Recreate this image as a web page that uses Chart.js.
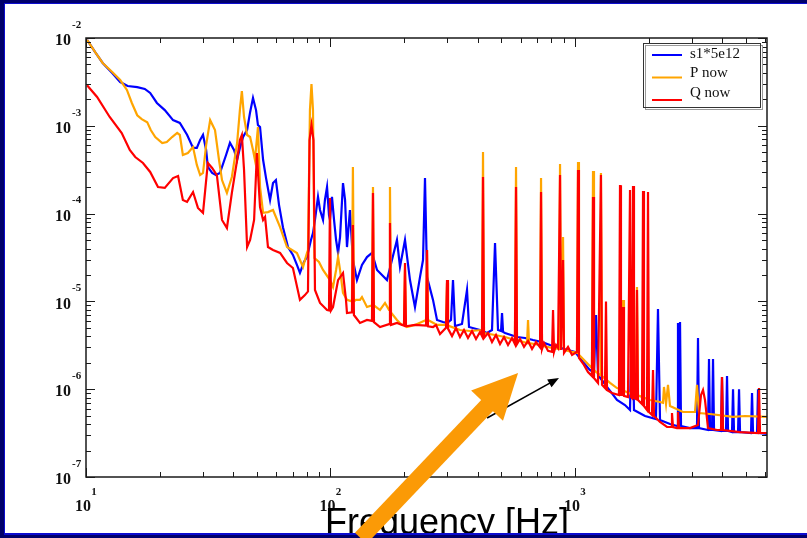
<!DOCTYPE html>
<html lang="en">
<head>
<meta charset="UTF-8">
<title>Spectrum s1 / P / Q</title>
<script src="https://cdn.jsdelivr.net/npm/chart.js"></script>
<style>
  html, body { margin: 0; padding: 0; background: #00006b; }
  canvas { display: block; }
</style>
</head>
<body>
<canvas id="spectrum" width="807" height="538"></canvas>
<script>
// Spectra as [frequency Hz, amplitude] pairs
const s1Series = [
  [10.1, 9.5e-3], [10.9, 6.9e-3], [11.7, 5.2e-3], [12.8, 4.0e-3], [13.8, 3.15e-3], [14.8, 2.84e-3],
  [16.2, 2.76e-3], [17.4, 2.63e-3], [18.3, 2.37e-3], [19.5, 1.82e-3], [21.0, 1.51e-3], [22.7, 1.16e-3],
  [24.2, 1.08e-3], [25.9, 7.9e-4], [27.4, 5.6e-4], [28.4, 5.6e-4], [29.3, 6.9e-4], [30.1, 7.9e-4],
  [31.0, 5.3e-4], [31.5, 3.4e-4], [32.8, 2.9e-4], [34.0, 2.75e-4], [35.3, 2.9e-4], [37.4, 4.65e-4],
  [38.8, 6.4e-4], [40.3, 5.3e-4], [41.5, 4.1e-4], [42.6, 5.6e-4], [43.9, 7.45e-4], [45.6, 9.0e-4],
  [46.9, 1.43e-3], [48.2, 2.08e-3], [49.6, 1.51e-3], [50.5, 1.02e-3], [51.5, 9.7e-4], [53.0, 4.1e-4],
  [54.5, 2.54e-4], [56.6, 1.43e-4], [58.2, 2.23e-4], [59.8, 2.41e-4], [61.6, 1.25e-4], [63.9, 7.0e-5],
  [67.0, 4.16e-5], [70.2, 3.38e-5], [72.9, 2.6e-5], [75.0, 2.11e-5], [77.9, 2.81e-5], [80.1, 3.2e-5],
  [83.2, 5.0e-5], [84.8, 6.0e-5], [86.4, 8.5e-5], [88.9, 1.55e-4], [90.6, 1.1e-4], [93.2, 8.5e-5],
  [94.9, 1.43e-4], [96.8, 2.01e-4], [98.6, 9.6e-5], [99.5, 8.5e-5], [101.4, 1.55e-4], [103.4, 8.5e-5],
  [105.4, 5.0e-5], [107.4, 3.56e-5], [109.4, 5.4e-5], [112.5, 2.23e-4], [114.7, 1.43e-4], [116.8, 4.16e-5],
  [120.1, 1.1e-4], [123.5, 2.96e-5], [128.3, 1.75e-5], [134.5, 2.6e-5], [141.0, 3.2e-5], [147.8, 3.56e-5],
  [155.0, 2.28e-5], [162.4, 2.0e-5], [170.2, 1.75e-5], [178.4, 2.96e-5], [187.0, 5.0e-5], [192.4, 2.47e-5],
  [201.7, 5.0e-5], [211.4, 1.75e-5], [221.6, 8.6e-6], [232.3, 1.89e-5], [239.0, 2.96e-5], [243.5, 2.54e-4],
  [248.2, 1.89e-5], [262.6, 1.04e-5], [272.7, 6.14e-6], [288.5, 5.83e-6], [299.6, 5.68e-6], [311.1, 6.14e-6],
  [317.0, 1.75e-5], [323.1, 5.24e-6], [345.0, 5.53e-6], [361.7, 1.35e-5], [368.6, 5.11e-6], [408.8, 4.72e-6],
  [436.7, 4.36e-6], [457.7, 4.72e-6], [470.9, 4.62e-5], [484.4, 4.72e-6], [498.3, 4.6e-6], [503.0, 7.38e-6],
  [507.9, 4.5e-6], [517.4, 4.36e-6], [579.3, 3.93e-6],
  [624.6, 3.83e-6], [673.6, 3.63e-6], [733.2, 3.44e-6], [790.5, 3.19e-6], [852.4, 3.03e-6], [927.8, 2.8e-6],
  [1000, 2.66e-6], [1078, 2.04e-6], [1152, 1.65e-6], [1196, 1.57e-6], [1219, 7.0e-6], [1242, 1.45e-6],
  [1364, 1.03e-6], [1485, 7.53e-7], [1601, 6.6e-7], [1679, 5.8e-7], [1711, 8.6e-6], [1743, 5.8e-7],
  [1934, 4.95e-7], [2144, 4.58e-7], [2185, 8.2e-6], [2227, 4.46e-7], [2447, 4.02e-7], [2614, 3.81e-7],
  [2638, 5.68e-6], [2663, 3.81e-7], [2689, 5.83e-6], [2714, 3.81e-7], [2954, 3.61e-7], [3155, 3.61e-7],
  [3185, 3.83e-6], [3215, 3.61e-7], [3500, 3.43e-7], [3533, 2.21e-6], [3567, 3.43e-7], [3635, 3.43e-7],
  [3669, 2.21e-6], [3704, 3.43e-7], [3956, 3.34e-7], [3993, 1.38e-6], [4031, 3.34e-7], [4147, 3.34e-7],
  [4186, 1.41e-6], [4225, 3.34e-7], [4388, 3.25e-7], [4430, 1.0e-6], [4471, 3.25e-7], [4644, 3.25e-7],
  [4688, 1.0e-6], [4732, 3.25e-7], [5248, 3.17e-7], [5298, 9.05e-7], [5348, 3.17e-7], [5554, 3.17e-7],
  [5606, 1.0e-6], [5659, 3.17e-7], [6100, 3.09e-7]
];

const pSeries = [
  [10.1, 9.5e-3], [10.9, 6.9e-3], [11.7, 5.2e-3], [12.8, 4.1e-3], [13.8, 3.32e-3], [14.7, 2.56e-3],
  [15.4, 1.82e-3], [16.2, 1.32e-3], [16.9, 1.19e-3], [17.8, 1.1e-3], [18.4, 8.96e-4], [19.2, 7.45e-4],
  [20.5, 6.37e-4], [21.4, 6.54e-4], [22.5, 7.45e-4], [23.6, 8.28e-4], [24.2, 7.86e-4], [24.9, 4.65e-4],
  [26.1, 4.9e-4], [27.4, 5.73e-4], [28.4, 3.58e-4], [29.3, 2.75e-4], [30.1, 2.9e-4], [31.0, 6.04e-4],
  [32.2, 1.16e-3], [33.7, 8.96e-4], [35.0, 4.08e-4], [36.0, 2.41e-4], [37.7, 1.72e-4], [39.5, 2.61e-4],
  [41.5, 6.37e-4], [42.6, 1.51e-3], [43.4, 2.49e-3], [44.3, 1.26e-3], [45.6, 7.86e-4], [46.9, 7.45e-4],
  [48.2, 5.3e-4], [49.1, 4.08e-4], [50.5, 9.69e-4], [51.5, 2.01e-4], [53.0, 1.02e-4], [55.5, 1.04e-4],
  [58.2, 1.1e-4], [62.2, 7.03e-5], [66.4, 4.16e-5], [69.6, 3.85e-5], [72.9, 3.56e-5], [77.2, 2.47e-5],
  [80.1, 3.56e-5], [80.9, 3.85e-5], [82.4, 1.51e-3], [83.6, 2.99e-3], [84.8, 1.51e-3], [86.0, 3.12e-5],
  [89.7, 2.81e-5], [93.2, 2.28e-5], [99.5, 1.75e-5], [102.4, 1.46e-5], [105.4, 2.28e-5], [107.4, 3.2e-5],
  [109.4, 2.28e-5], [112.5, 1.25e-5], [116.8, 1.04e-5], [122.4, 1.0e-5], [123.5, 3.4e-4], [124.7, 1.0e-5],
  [127.1, 1.04e-5], [132.0, 1.04e-5], [134.5, 1.12e-5], [141.0, 8.63e-6], [147.8, 9.0e-6], [149.2, 2.01e-4],
  [150.6, 9.0e-6], [159.4, 7.98e-6], [167.1, 9.6e-6], [173.5, 8.0e-6], [175.1, 2.01e-4], [176.8, 7.5e-6],
  [180.1, 7.0e-6], [187.0, 6.14e-6], [196.1, 5.39e-6], [199.8, 5.4e-6], [201.7, 2.28e-5], [203.6, 5.3e-6],
  [205.5, 5.11e-6], [221.6, 5.39e-6], [245.9, 6.14e-6], [248.2, 3.85e-5], [250.5, 6.14e-6], [272.7, 5.39e-6],
  [296.8, 5.4e-6], [299.6, 1.62e-5], [302.4, 5.3e-6], [338.6, 4.72e-6], [372.1, 4.6e-6], [416.6, 4.72e-6],
  [420.5, 5.03e-4], [424.5, 4.36e-6], [470.9, 4.14e-6], [517.4, 3.93e-6], [567.9, 3.63e-6], [573.9, 3.4e-4],
  [579.3, 3.63e-6], [636.5, 3.36e-6], [642.6, 6.14e-6], [648.6, 3.36e-6], [719.5, 3.19e-6], [726.3, 2.54e-4],
  [733.2, 3.11e-6], [805.5, 2.95e-6], [860.4, 2.87e-6], [868.6, 3.67e-4], [876.9, 2.87e-6], [893.5, 5.41e-5],
  [901.9, 2.8e-6], [972.5, 2.66e-6], [1019, 2.59e-6], [1029, 3.87e-4], [1038, 2.46e-6], [1109, 2.04e-6],
  [1173, 1.74e-6], [1185, 3.06e-4], [1196, 1.65e-6], [1266, 1.45e-6], [1277, 2.9e-4], [1290, 1.41e-6],
  [1391, 1.18e-6], [1485, 1.03e-6], [1557, 1.0e-6], [1572, 1.04e-5], [1586, 9.6e-7], [1727, 8.6e-7],
  [1776, 8.7e-7], [1793, 1.46e-5], [1810, 8.5e-7], [2027, 7.53e-7], [2227, 7.15e-7], [2290, 7.0e-7],
  [2312, 1.06e-6], [2357, 6.78e-7], [2401, 1.12e-6], [2447, 6.43e-7], [2766, 5.5e-7], [3096, 5.5e-7],
  [3155, 1.12e-6], [3215, 5.36e-7], [3567, 5.22e-7], [4430, 4.83e-7], [4960, 4.95e-7], [6100, 4.83e-7]
];

const qSeries = [
  [10.1, 2.9e-3], [11.1, 2.13e-3], [12.5, 1.26e-3], [14.0, 8.28e-4], [15.1, 5.3e-4], [15.9, 4.41e-4],
  [17.1, 3.77e-4], [18.3, 2.98e-4], [19.7, 2.01e-4], [21.0, 1.96e-4], [22.7, 2.54e-4], [23.8, 2.68e-4],
  [24.9, 1.43e-4], [25.9, 1.36e-4], [27.4, 1.76e-4], [28.7, 1.16e-4], [30.1, 1.02e-4], [31.5, 3.77e-4],
  [32.8, 3.31e-4], [34.3, 2.75e-4], [36.0, 8.46e-5], [37.7, 6.85e-5], [39.5, 1.72e-4], [41.5, 4.08e-4],
  [42.6, 6.89e-4], [43.4, 7.86e-4], [44.3, 3.14e-4], [45.6, 4.16e-5], [46.9, 5.0e-5], [48.7, 8.46e-5],
  [50.0, 4.9e-4], [51.0, 1.86e-4], [51.5, 1.19e-4], [53.0, 8.46e-5], [54.0, 9.15e-5], [55.5, 4.16e-5],
  [58.2, 3.85e-5], [62.2, 3.56e-5], [66.4, 2.74e-5], [70.2, 2.4e-5], [75.0, 1.04e-5], [78.6, 1.18e-5],
  [80.9, 1.3e-5], [82.1, 6.89e-4], [83.6, 1.02e-3], [85.2, 6.89e-4], [86.4, 1.35e-5], [90.6, 9.6e-6],
  [96.8, 7.98e-6], [98.6, 7.9e-6], [99.5, 1.51e-4], [100.5, 7.9e-6], [102.4, 8.63e-6], [107.4, 1.75e-5],
  [112.5, 2.11e-5], [115.7, 1.04e-5], [116.8, 7.38e-6], [122.4, 7.5e-6], [123.5, 7.42e-5], [124.7, 7.0e-6],
  [132.0, 5.68e-6], [141.0, 6.14e-6], [147.8, 6.0e-6], [149.2, 1.72e-4], [150.6, 5.8e-6], [159.4, 5.11e-6],
  [173.5, 5.5e-6], [175.1, 7.82e-5], [176.8, 5.4e-6], [187.0, 5.68e-6], [199.8, 5.3e-6], [201.7, 2.74e-5],
  [203.6, 5.2e-6], [221.6, 5.39e-6], [245.9, 5.3e-6], [248.2, 3.85e-5], [250.5, 5.2e-6], [262.6, 5.11e-6],
  [270.2, 5.38e-6], [280.5, 4.25e-6], [296.8, 5.0e-6], [299.6, 1.75e-5], [302.4, 4.9e-6], [314.1, 4.03e-6],
  [326.1, 4.97e-6], [338.6, 3.93e-6], [351.6, 4.72e-6], [365.1, 3.83e-6], [379.2, 4.6e-6], [393.7, 3.73e-6],
  [408.8, 4.48e-6], [416.6, 4.03e-6], [420.5, 2.61e-4], [424.5, 3.83e-6], [440.8, 4.36e-6], [457.7, 3.44e-6],
  [475.3, 4.14e-6], [493.6, 3.27e-6], [512.6, 3.93e-6], [532.2, 3.19e-6], [552.6, 3.83e-6], [567.9, 3.27e-6],
  [573.9, 2.01e-4], [579.3, 3.27e-6], [595.9, 3.73e-6], [618.8, 3.03e-6], [642.6, 3.54e-6], [667.2, 2.87e-6],
  [692.9, 3.44e-6], [719.5, 3.0e-6], [726.3, 1.76e-4], [733.2, 2.87e-6], [747.1, 3.36e-6], [775.7, 2.73e-6],
  [805.5, 2.66e-6], [813.2, 7.98e-6], [820.9, 2.66e-6], [836.5, 3.19e-6], [852.4, 2.95e-6], [868.6, 2.75e-4],
  [876.9, 2.8e-6], [893.5, 2.96e-5], [901.9, 2.59e-6], [936.6, 3.03e-6], [972.5, 2.46e-6],
  [1019, 2.66e-6], [1029, 3.14e-4], [1038, 2.27e-6], [1088, 1.89e-6], [1130, 1.57e-6],
  [1173, 1.41e-6], [1185, 1.55e-4], [1196, 1.34e-6], [1242, 1.18e-6], [1277, 2.75e-4], [1290, 1.12e-6],
  [1326, 1.03e-6], [1339, 1.0e-5], [1352, 9.79e-7], [1417, 9.05e-7], [1513, 8.6e-7], [1528, 2.11e-4],
  [1542, 8.6e-7], [1557, 8.6e-7], [1572, 8.63e-6], [1586, 8.4e-7], [1647, 8.15e-7], [1679, 1.86e-4],
  [1695, 8.15e-7], [1711, 7.94e-7], [1727, 2.06e-4], [1743, 7.94e-7], [1776, 7.73e-7], [1793, 1.35e-5],
  [1810, 7.53e-7], [1880, 6.78e-7], [1898, 1.81e-4], [1915, 6.43e-7], [1970, 5.8e-7], [1989, 1.76e-4],
  [2008, 5.5e-7], [2065, 5.09e-7], [2085, 1.65e-6], [2105, 4.95e-7], [2227, 4.23e-7], [2379, 3.71e-7],
  [2470, 3.71e-7], [2493, 5.36e-7], [2517, 3.71e-7], [2614, 3.61e-7], [2638, 5.5e-7], [2663, 3.61e-7],
  [2954, 3.61e-7], [3185, 3.91e-7], [3277, 8.6e-7], [3339, 9.79e-7], [3402, 7.53e-7], [3500, 3.61e-7],
  [3810, 3.43e-7], [3956, 3.43e-7], [3993, 1.38e-6], [4031, 3.43e-7], [4732, 3.25e-7], [5606, 3.17e-7],
  [5659, 1.03e-6], [5713, 3.17e-7], [6100, 3.17e-7]
];

const seriesLabels = ['s1*5e12', 'P now', 'Q now'];
const seriesColors = ['#0000ff', '#ffa500', '#ff0000'];

// axis range and decade labels
const freqRange = [10, 6100];
const ampRange = [1e-7, 1e-2];
const xDecades = [1, 2, 3];
const yDecades = [-7, -6, -5, -4, -3, -2];
const minorSteps = [2, 3, 4, 5, 6, 7, 8, 9];

// annotation arrows, [frequency, amplitude] tail then head
const bigArrow = [[133, 2.0e-8], [585, 1.53e-6]];
const smallArrow = [[437, 4.7e-7], [860, 1.34e-6]];

function logTicks(lo, hi) {
  const out = [];
  for (let d = Math.floor(Math.log10(lo)); d <= Math.ceil(Math.log10(hi)); d++) {
    [1].concat(minorSteps).forEach(m => {
      const v = m * Math.pow(10, d);
      if (v >= lo * 0.999 && v <= hi * 1.001) out.push({ v, major: m === 1 });
    });
  }
  return out;
}

function drawArrow(ctx, x0, y0, x1, y1, width, headLen, headHalf, color) {
  const len = Math.hypot(x1 - x0, y1 - y0);
  const ux = (x1 - x0) / len, uy = (y1 - y0) / len;
  const bx = x1 - ux * headLen, by = y1 - uy * headLen;
  ctx.strokeStyle = color;
  ctx.fillStyle = color;
  ctx.lineWidth = width;
  ctx.lineCap = 'butt';
  ctx.beginPath();
  ctx.moveTo(x0, y0);
  ctx.lineTo(bx + ux, by + uy);
  ctx.stroke();
  ctx.beginPath();
  ctx.moveTo(x1, y1);
  ctx.lineTo(bx - uy * headHalf, by + ux * headHalf);
  ctx.lineTo(bx + uy * headHalf, by - ux * headHalf);
  ctx.closePath();
  ctx.fill();
}

const decorations = {
  id: 'decorations',
  beforeDraw(chart) {
    const ctx = chart.ctx;
    ctx.save();
    ctx.fillStyle = '#ffffff';
    ctx.fillRect(0, 0, chart.width, chart.height);
    ctx.restore();
  },
  afterDraw(chart) {
    const { ctx, chartArea: a } = chart;
    const sx = chart.scales.x, sy = chart.scales.y;
    ctx.save();

    // plot frame
    ctx.strokeStyle = '#1a1a1a';
    ctx.lineWidth = 1.5;
    ctx.strokeRect(a.left, a.top, a.right - a.left, a.bottom - a.top);

    // inward ticks on all four sides
    ctx.lineWidth = 1;
    ctx.beginPath();
    logTicks(freqRange[0], freqRange[1]).forEach(t => {
      const px = Math.round(sx.getPixelForValue(t.v)) + 0.5;
      const len = t.major ? 9 : 5;
      ctx.moveTo(px, a.bottom); ctx.lineTo(px, a.bottom - len);
      ctx.moveTo(px, a.top); ctx.lineTo(px, a.top + len);
    });
    logTicks(ampRange[0], ampRange[1]).forEach(t => {
      const py = Math.round(sy.getPixelForValue(t.v)) + 0.5;
      const len = t.major ? 9 : 5;
      ctx.moveTo(a.left, py); ctx.lineTo(a.left + len, py);
      ctx.moveTo(a.right, py); ctx.lineTo(a.right - len, py);
    });
    ctx.stroke();

    // decade labels, 10 with raised exponent
    ctx.fillStyle = '#111';
    ctx.textBaseline = 'middle';
    xDecades.forEach(d => {
      const px = sx.getPixelForValue(Math.pow(10, d));
      ctx.textAlign = 'center';
      ctx.font = 'bold 16px "Liberation Serif", "Times New Roman", serif';
      ctx.fillText('10', px - 3, a.bottom + 30);
      ctx.font = 'bold 11px "Liberation Serif", "Times New Roman", serif';
      ctx.fillText(String(d), px + 8, a.bottom + 15);
    });
    yDecades.forEach(d => {
      const py = sy.getPixelForValue(Math.pow(10, d));
      ctx.textAlign = 'right';
      ctx.font = 'bold 16px "Liberation Serif", "Times New Roman", serif';
      ctx.fillText('10', a.left - 15, py + 3);
      ctx.textAlign = 'left';
      ctx.font = 'bold 11px "Liberation Serif", "Times New Roman", serif';
      ctx.fillText(String(d), a.left - 14, py - 13);
    });

    // legend box
    const lx = 643, ly = 43, lw = 117, lh = 64;
    ctx.fillStyle = '#ffffff';
    ctx.fillRect(lx, ly, lw, lh);
    ctx.strokeStyle = '#9a9a9a';
    ctx.lineWidth = 1;
    ctx.strokeRect(lx + 2.5, ly + 2.5, lw, lh);
    ctx.strokeStyle = '#333';
    ctx.strokeRect(lx + 0.5, ly + 0.5, lw, lh);
    ctx.font = '15px "Liberation Serif", "Times New Roman", serif';
    ctx.textAlign = 'left';
    chart.data.datasets.forEach((ds, i) => {
      const lineY = ly + 12 + i * 22.5;
      const textY = ly + 11 + i * 19.5;
      ctx.strokeStyle = ds.borderColor;
      ctx.lineWidth = 2;
      ctx.beginPath();
      ctx.moveTo(lx + 9, lineY);
      ctx.lineTo(lx + 39, lineY);
      ctx.stroke();
      ctx.fillStyle = '#111';
      ctx.fillText(ds.label, lx + 47, textY);
    });

    // axis title
    ctx.fillStyle = '#000';
    ctx.textAlign = 'center';
    ctx.textBaseline = 'alphabetic';
    ctx.font = '36px "Liberation Sans", Arial, sans-serif';
    ctx.fillText('Frequency [Hz]', 447, 534);

    // slide border
    const W = chart.width, H = chart.height;
    ctx.fillStyle = '#00006b';
    ctx.fillRect(0, 0, W, 3);
    ctx.fillRect(0, 0, 4, H);
    ctx.fillRect(0, H - 3, W, 3);
    ctx.fillStyle = '#0c0cd0';
    ctx.fillRect(4, 3, W - 4, 1);
    ctx.fillRect(4, 3, 1, H - 6);
    ctx.fillRect(4, H - 5, W - 4, 2);

    // arrows
    const pt = p => [sx.getPixelForValue(p[0]), sy.getPixelForValue(p[1])];
    const [s0, s1] = smallArrow.map(pt);
    drawArrow(ctx, s0[0], s0[1], s1[0], s1[1], 1.6, 11, 4.5, '#000');
    const [b0, b1] = bigArrow.map(pt);
    drawArrow(ctx, b0[0], b0[1], b1[0], b1[1], 16, 45, 22, '#fb9a06');

    ctx.restore();
  }
};

const toPoints = s => s.map(([f, v]) => ({ x: f, y: v }));
const allSeries = [s1Series, pSeries, qSeries];

new Chart(document.getElementById('spectrum'), {
  type: 'line',
  data: {
    datasets: allSeries.map((s, i) => ({
      label: seriesLabels[i],
      data: toPoints(s),
      borderColor: seriesColors[i],
      borderWidth: 2.2,
      pointRadius: 0,
      tension: 0,
      fill: false,
      order: allSeries.length - i
    }))
  },
  options: {
    responsive: false,
    animation: false,
    events: [],
    layout: { padding: { left: 86, top: 38, right: 40, bottom: 61 } },
    scales: {
      x: { type: 'logarithmic', min: freqRange[0], max: freqRange[1], display: false },
      y: { type: 'logarithmic', min: ampRange[0], max: ampRange[1], display: false }
    },
    plugins: {
      legend: { display: false },
      tooltip: { enabled: false }
    }
  },
  plugins: [decorations]
});
</script>
</body>
</html>
